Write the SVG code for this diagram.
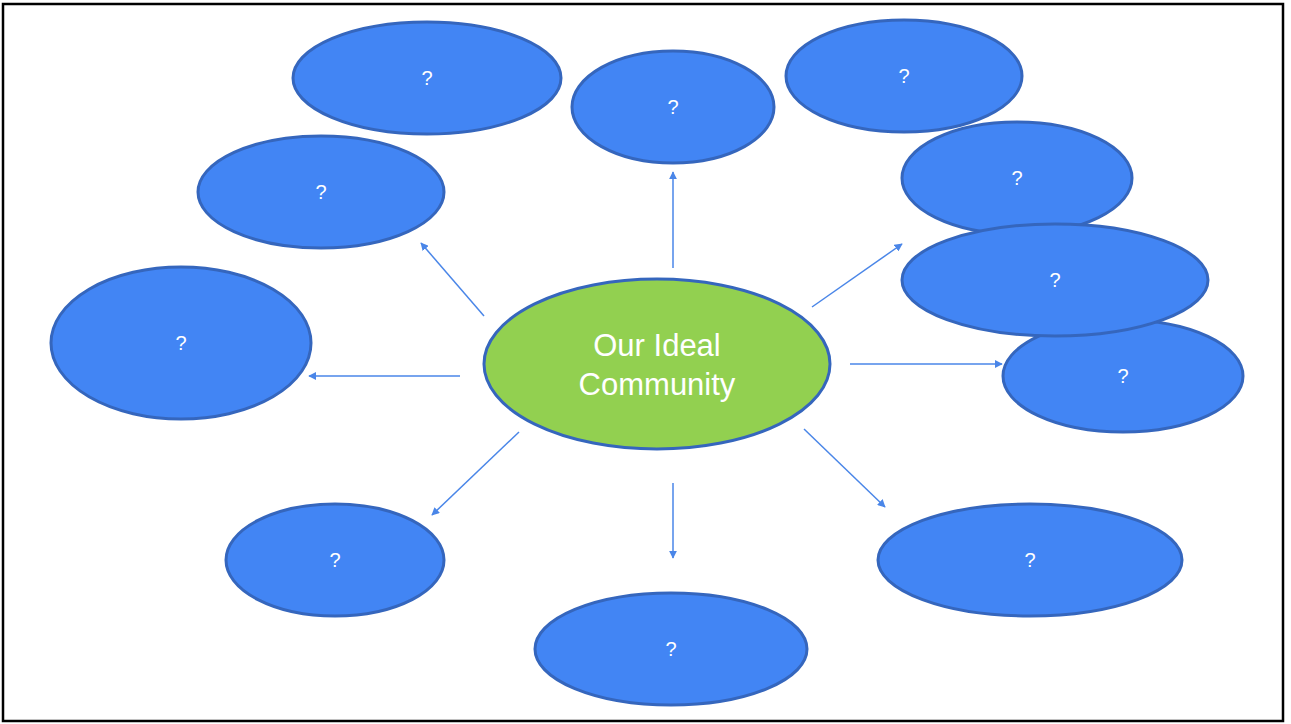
<svg xmlns="http://www.w3.org/2000/svg" width="1291" height="724" viewBox="0 0 1291 724">
<style>
.n{fill:#4285f4;stroke:#3566bd;stroke-width:3}
.c{fill:#92d050;stroke:#3566bd;stroke-width:3}
.t{font-family:"Liberation Sans",Arial,sans-serif;font-size:20px;fill:#fff;text-anchor:middle;dominant-baseline:central}
.ct{font-family:"Liberation Sans",Arial,sans-serif;font-size:31px;fill:#fff;text-anchor:middle}
.e{stroke:#4a86e8;stroke-width:1.5;fill:none;marker-end:url(#a)}
</style>
<defs>
<marker id="a" viewBox="0 0 10 10" refX="9" refY="5" markerWidth="8" markerHeight="8" orient="auto" markerUnits="userSpaceOnUse"><path d="M0,0 L10,5 L0,10 z" fill="#4a86e8"/></marker>
</defs>
<rect width="1291" height="724" fill="#fff"/>
<rect x="3" y="4" width="1280" height="717" fill="none" stroke="#000" stroke-width="2.5"/>
<g id="connectors">
<line class="e" x1="673" y1="268" x2="673" y2="172"/>
<line class="e" x1="484" y1="316" x2="421" y2="243"/>
<line class="e" x1="460" y1="376" x2="309" y2="376"/>
<line class="e" x1="519" y1="432" x2="432" y2="515"/>
<line class="e" x1="673" y1="483" x2="673" y2="558"/>
<line class="e" x1="804" y1="429" x2="885" y2="507"/>
<line class="e" x1="850" y1="364" x2="1002" y2="364"/>
<line class="e" x1="812" y1="307" x2="902" y2="244"/>
</g>
<g id="n1"><ellipse class="n" cx="427" cy="78" rx="134" ry="56"/><text class="t" x="427" y="78">?</text></g>
<g id="n2"><ellipse class="n" cx="673" cy="107" rx="101" ry="56"/><text class="t" x="673" y="107">?</text></g>
<g id="n3"><ellipse class="n" cx="904" cy="76" rx="118" ry="56"/><text class="t" x="904" y="76">?</text></g>
<g id="n4"><ellipse class="n" cx="321" cy="192" rx="123" ry="56"/><text class="t" x="321" y="192">?</text></g>
<g id="n5"><ellipse class="n" cx="1017" cy="178" rx="115" ry="56"/><text class="t" x="1017" y="178">?</text></g>
<g id="n7"><ellipse class="n" cx="1123" cy="376" rx="120" ry="56"/><text class="t" x="1123" y="376">?</text></g>
<g id="n6"><ellipse class="n" cx="1055" cy="280" rx="153" ry="56"/><text class="t" x="1055" y="280">?</text></g>
<g id="n8"><ellipse class="n" cx="181" cy="343" rx="130" ry="76"/><text class="t" x="181" y="343">?</text></g>
<g id="n9"><ellipse class="n" cx="335" cy="560" rx="109" ry="56"/><text class="t" x="335" y="560">?</text></g>
<g id="n10"><ellipse class="n" cx="671" cy="649" rx="136" ry="56"/><text class="t" x="671" y="649">?</text></g>
<g id="n11"><ellipse class="n" cx="1030" cy="560" rx="152" ry="56"/><text class="t" x="1030" y="560">?</text></g>
<g id="center"><ellipse class="c" cx="657" cy="364" rx="173" ry="85"/><text class="ct" x="657" y="356">Our Ideal</text><text class="ct" x="657" y="395">Community</text></g>
</svg>
